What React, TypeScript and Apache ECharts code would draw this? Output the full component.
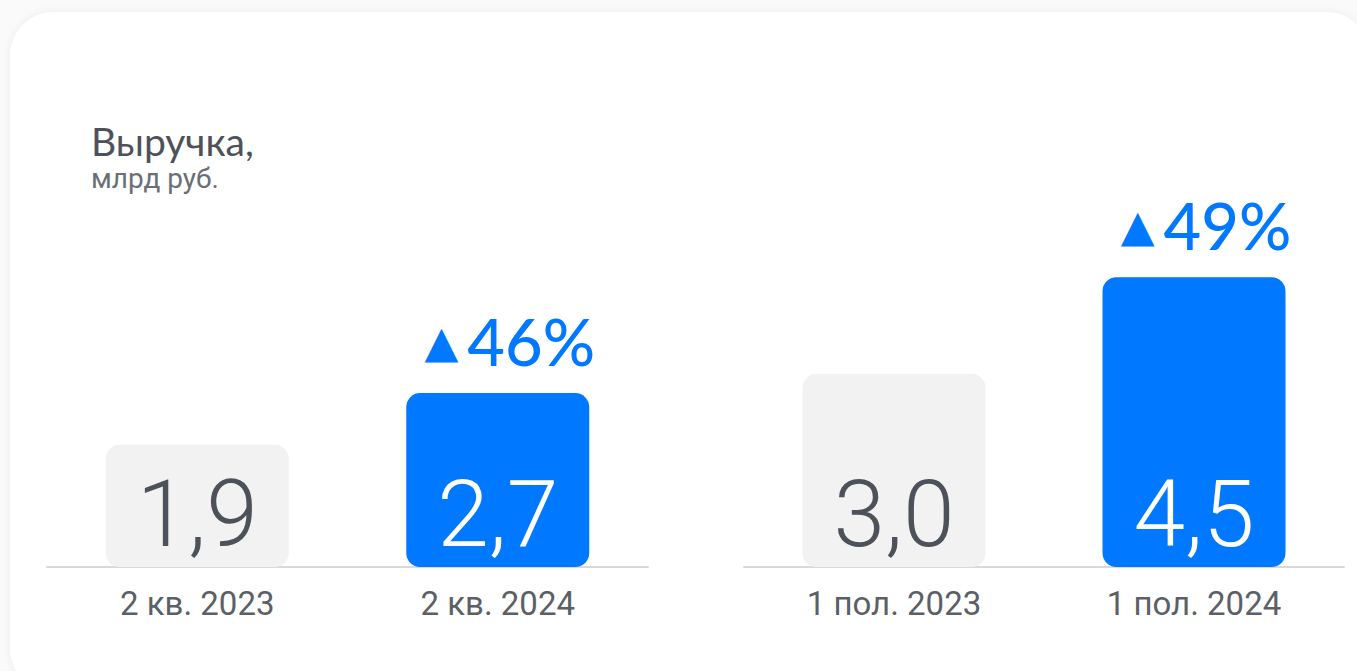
import React, { useEffect, useRef } from "react";
import * as echarts from "echarts";

const quarterCats = ["2 кв. 2023", "2 кв. 2024"];
const quarterValues = [1.9, 2.7];
const halfCats = ["1 пол. 2023", "1 пол. 2024"];
const halfValues = [3.0, 4.5];
const quarterGrowth = ["", "46%"];
const halfGrowth = ["", "49%"];
const titleText = "Выручка,";
const subtitleText = "млрд руб.";

const GRAY = "#f2f2f2";
const BLUE = "#0078ff";
const TEXT = "#4d525a";

function barSeries(values: number[], growth: string[], xi: number) {
  const fmt = (v: number) => v.toFixed(1).replace(".", ",");
  return [
    {
      type: "bar",
      xAxisIndex: xi,
      yAxisIndex: xi,
      barWidth: 183,
      data: values.map((v, i) => ({
        value: v,
        itemStyle: { color: i === 0 ? GRAY : BLUE, borderRadius: 14 },
        label: {
          show: true,
          position: "insideBottom",
          distance: 6,
          formatter: fmt(v),
          fontFamily: "Roboto",
          fontWeight: 300,
          fontSize: 93,
          lineHeight: 93,
          color: i === 0 ? TEXT : "#ffffff",
        },
      })),
    },
    {
      type: "bar",
      xAxisIndex: xi,
      yAxisIndex: xi,
      barWidth: 183,
      barGap: "-100%",
      silent: true,
      itemStyle: { color: "transparent" },
      data: values.map((v, i) => ({
        value: v,
        label: {
          show: growth[i] !== "",
          position: "top",
          distance: 20,
          offset: [12, 0],
          formatter: "{t|▲}{p|" + growth[i] + "}",
          rich: {
            t: { fontFamily: "DejaVu Sans", fontSize: 44, lineHeight: 64, color: BLUE, padding: [0, 9, 0, 0] },
            p: { fontFamily: "Lato", fontWeight: 500, fontSize: 65, lineHeight: 64, color: BLUE },
          },
        },
      })),
    },
  ];
}

export default function App() {
  const ref = useRef<HTMLDivElement>(null);
  useEffect(() => {
    const chart = echarts.init(ref.current!, undefined, { renderer: "svg" });
    const xAxisCommon = {
      type: "category",
      axisTick: { show: false },
      axisLine: { show: true, lineStyle: { color: "#d9d9d9", width: 2 } },
      axisLabel: { fontFamily: "Roboto", fontSize: 33, color: "#5b5f66", margin: 20 },
    };
    const yAxisCommon = { type: "value", min: 0, max: 5, show: false, splitLine: { show: false } };
    chart.setOption({
      animation: false,
      backgroundColor: "#fafafa",
      graphic: [
        {
          type: "rect",
          shape: { x: 10, y: 12, width: 1360, height: 680, r: 44 },
          style: { fill: "#ffffff", shadowBlur: 8, shadowColor: "rgba(0,0,0,0.06)" },
          z: -10,
        },
        {
          type: "text",
          left: 91,
          top: 121,
          style: { text: titleText, fontFamily: "Lato", fontSize: 39, fill: TEXT },
        },
        {
          type: "text",
          left: 91,
          top: 164,
          style: { text: subtitleText, fontFamily: "Roboto", fontSize: 28, fill: "#6a6e75" },
        },
      ],
      grid: [
        { left: 47, width: 601, top: 245, height: 322 },
        { left: 744, width: 600, top: 245, height: 322 },
      ],
      xAxis: [
        { ...xAxisCommon, gridIndex: 0, data: quarterCats },
        { ...xAxisCommon, gridIndex: 1, data: halfCats },
      ],
      yAxis: [
        { ...yAxisCommon, gridIndex: 0 },
        { ...yAxisCommon, gridIndex: 1 },
      ],
      series: [...barSeries(quarterValues, quarterGrowth, 0), ...barSeries(halfValues, halfGrowth, 1)],
    });
    return () => chart.dispose();
  }, []);
  return (
    <div
      ref={ref}
      style={{ position: "fixed", left: 0, top: 0, width: 1357, height: 671 }}
    />
  );
}
